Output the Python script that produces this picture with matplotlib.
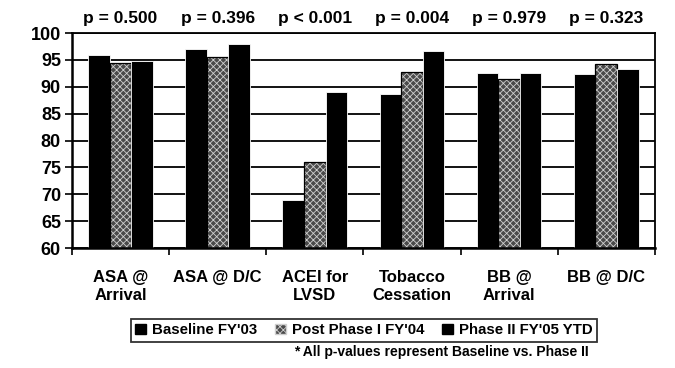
import matplotlib
matplotlib.use("Agg")
import matplotlib.pyplot as plt
import matplotlib.transforms as mtransforms
from matplotlib.patches import Patch
import numpy as np

plt.rcParams['font.family'] = ['Liberation Sans', 'DejaVu Sans']
plt.rcParams['font.weight'] = 'bold'
plt.rcParams['hatch.linewidth'] = 0.6

categories = ["ASA @\nArrival", "ASA @ D/C", "ACEI for\nLVSD", "Tobacco\nCessation", "BB @\nArrival", "BB @ D/C"]
p_labels = ["p = 0.500", "p = 0.396", "p < 0.001", "p = 0.004", "p = 0.979", "p = 0.323"]
baseline = [96.0, 97.0, 69.0, 88.7, 92.6, 92.4]
phase1 = [94.5, 95.5, 76.0, 92.7, 91.5, 94.2]
phase2 = [94.8, 98.0, 89.0, 96.7, 92.5, 93.4]
series_names = ["Baseline FY'03", "Post Phase I FY'04", "Phase II FY'05 YTD"]
yticks = [60, 65, 70, 75, 80, 85, 90, 95, 100]

fig = plt.figure(figsize=(6.75, 3.68), dpi=100)
ax = fig.add_axes([0.1067, 0.326, 0.8633, 0.584])

x = np.arange(len(categories))
w = 0.222
ax.set_axisbelow(True)
ax.bar(x - w, np.array(baseline) - 60, w, bottom=60, color='black', edgecolor='white', linewidth=0.6)
ax.bar(x, np.array(phase1) - 60, w, bottom=60, color='#4a4a4a', edgecolor='#cfcfcf',
       hatch='xxxxx', linewidth=0)
ax.bar(x, np.array(phase1) - 60, w, bottom=60, fill=False, edgecolor='black', linewidth=0.9)
ax.bar(x + w, np.array(phase2) - 60, w, bottom=60, color='black', edgecolor='white', linewidth=0.6)

ax.set_xlim(-0.5, len(categories) - 0.5)
ax.set_ylim(60, 100)
ax.set_yticks(yticks)
ax.yaxis.grid(True, color='black', linewidth=1.3)
ax.tick_params(axis='y', direction='out', length=5, width=1.2, labelsize=13, pad=3)

ax.set_xticks(x)
ax.set_xticklabels(categories, fontsize=12, linespacing=1.25)
ax.tick_params(axis='x', which='major', length=0, pad=16)
ax.set_xticks(np.arange(-0.5, len(categories) - 0.4, 1.0), minor=True)
ax.tick_params(axis='x', which='minor', direction='out', length=5, width=1.2)

for s in ax.spines.values():
    s.set_linewidth(1.3)
    s.set_color('black')
ax.spines['left'].set_linewidth(1.8)
ax.spines['bottom'].set_linewidth(1.8)

trans = mtransforms.blended_transform_factory(ax.transData, fig.transFigure)
for xi, lab in zip(x, p_labels):
    ax.text(xi, 0.951, lab, transform=trans, ha='center', va='center', fontsize=12.5, fontweight='bold')

handles = [Patch(facecolor='black', edgecolor='black'),
           Patch(facecolor='#4a4a4a', edgecolor='#cfcfcf', hatch='xxxxx'),
           Patch(facecolor='black', edgecolor='black')]
leg = fig.legend(handles, series_names, loc='center', bbox_to_anchor=(0.539, 0.103), ncol=3,
                 fontsize=10.8, frameon=True, fancybox=False, handlelength=0.7, handleheight=0.7,
                 handletextpad=0.4, columnspacing=1.2, borderpad=0.3, edgecolor='black')
leg.get_frame().set_linewidth(1.3)

fig.text(0.872, 0.043, "* All p-values represent Baseline vs. Phase II", ha='right', va='center',
         fontsize=10, fontweight='bold')

fig.savefig("out.png", dpi=100, facecolor='white')
